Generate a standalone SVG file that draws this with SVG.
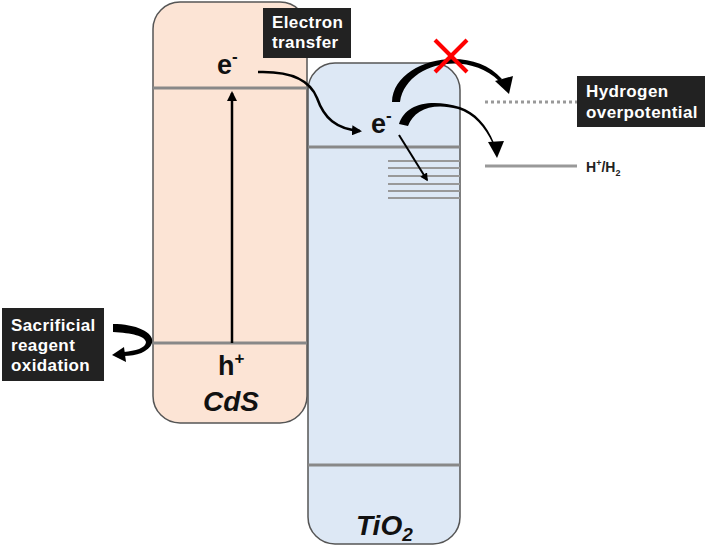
<svg xmlns="http://www.w3.org/2000/svg" width="709" height="548" viewBox="0 0 709 548">
<style>
.band{fill:#fce4d5;stroke:#555;stroke-width:1.5}
.tio{fill:#dde8f5;stroke:#555;stroke-width:1.5}
.lvl{stroke:#888;stroke-width:3;fill:none}
.trap{stroke:#999;stroke-width:2;fill:none}
.lbl{fill:#222}
.lt{font-family:"Liberation Sans",Arial,sans-serif;font-weight:bold;font-size:17px;fill:#fff;letter-spacing:0.4px}
.big{font-family:"Liberation Sans",Arial,sans-serif;font-weight:bold;font-size:27px;fill:#111}
.bigi{font-family:"Liberation Sans",Arial,sans-serif;font-weight:bold;font-style:italic;font-size:28px;fill:#111}
.sm{font-family:"Liberation Sans",Arial,sans-serif;font-weight:bold;font-size:14px;fill:#222}
.ln{stroke:#000;stroke-width:2.5;fill:none}
</style>
<defs>
<marker id="ah" viewBox="0 0 10 10" refX="8" refY="5" markerWidth="4" markerHeight="4" orient="auto" markerUnits="strokeWidth">
<path d="M0 0 L10 5 L0 10 Z" fill="#000"/>
</marker>
</defs>
<g id="cds">
<rect class="band" x="153" y="2" width="154" height="421" rx="27"/>
<line class="lvl" x1="153" y1="88" x2="307" y2="88"/>
<line class="lvl" x1="153" y1="343" x2="307" y2="343"/>
<text class="big" x="217" y="74">e<tspan font-size="17" dy="-12">-</tspan></text>
<text class="big" x="218" y="375">h<tspan font-size="17" dy="-11">+</tspan></text>
<text class="bigi" x="203" y="411">CdS</text>
</g>
<g id="tio2">
<rect class="tio" x="308" y="63" width="152" height="481" rx="27"/>
<line class="lvl" x1="308" y1="147" x2="460" y2="147"/>
<line class="lvl" x1="308" y1="465" x2="460" y2="465"/>
<g class="trap">
<line x1="388" y1="161" x2="460" y2="161"/>
<line x1="388" y1="168" x2="460" y2="168"/>
<line x1="388" y1="176" x2="460" y2="176"/>
<line x1="388" y1="184" x2="460" y2="184"/>
<line x1="388" y1="191" x2="460" y2="191"/>
<line x1="388" y1="198" x2="460" y2="198"/>
</g>
<text class="big" x="371" y="133">e<tspan font-size="17" dy="-12">-</tspan></text>
<text class="bigi" x="356" y="535">TiO<tspan font-size="19" dy="6">2</tspan></text>
</g>
<g id="levels">
<line x1="485" y1="102" x2="580" y2="102" stroke="#999" stroke-width="3" stroke-dasharray="3,3"/>
<line x1="485" y1="166" x2="577" y2="166" stroke="#999" stroke-width="3"/>
<text class="sm" x="586" y="172">H<tspan font-size="9" dy="-6">+</tspan><tspan dy="6">/H</tspan><tspan font-size="9" dy="4">2</tspan></text>
</g>
<g id="connectors">
<line class="ln" x1="232" y1="343" x2="232" y2="93" marker-end="url(#ah)"/>
<path class="ln" d="M258 72 C290 71 310 80 317 98 C324 118 336 129 360 131" marker-end="url(#ah)"/>
<line x1="399" y1="135" x2="427" y2="180" stroke="#000" stroke-width="2" marker-end="url(#ah)"/>
<path d="M392 102 C393 60 470 42 502 79 L499 81 C468 50 406 62 400 102 Z" fill="#000"/>
<path d="M509 94 L495 81 L513 76 Z" fill="#000"/>
<path d="M399 124 C405 104 430 98 460 107 C475 112 487 125 494 143 L493 144 C485 127 474 114 458 109 C432 102 414 110 408 126 Z" fill="#000"/>
<path d="M497 158 L488 142 L504 141 Z" fill="#000"/>
<path d="M113 324 C135 324 155 332 152 343 C149 352 136 356 124 356 L124 352 C135 351 146 348 146 342 C145 336 132 333 113 332 Z" fill="#000"/>
<path d="M112 355 L124 347 L126 362 Z" fill="#000"/>
</g>
<g id="cross" stroke="#f00" stroke-width="4">
<line x1="435" y1="40" x2="467" y2="72"/>
<line x1="467" y1="40" x2="435" y2="72"/>
</g>
<g id="label-transfer">
<rect class="lbl" x="263" y="8" width="88" height="50"/>
<text class="lt" x="272" y="28">Electron</text>
<text class="lt" x="272" y="48">transfer</text>
</g>
<g id="label-overpotential">
<rect class="lbl" x="577" y="76" width="128" height="51"/>
<text class="lt" x="586" y="97">Hydrogen</text>
<text class="lt" x="586" y="118">overpotential</text>
</g>
<g id="label-sacrificial">
<rect class="lbl" x="2" y="308" width="102" height="73"/>
<text class="lt" x="11" y="331">Sacrificial</text>
<text class="lt" x="11" y="351">reagent</text>
<text class="lt" x="11" y="371">oxidation</text>
</g>
</svg>
